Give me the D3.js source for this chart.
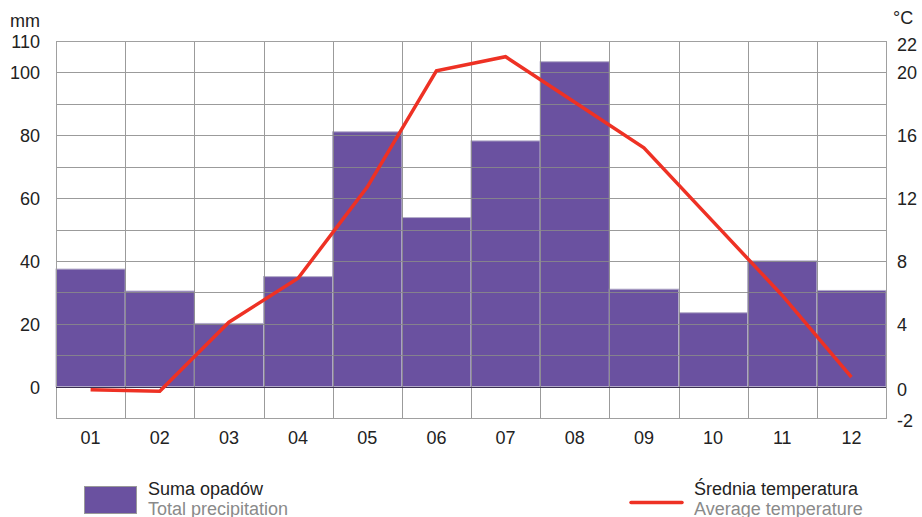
<!DOCTYPE html>
<html><head><meta charset="utf-8">
<script src="https://cdn.jsdelivr.net/npm/d3@7"></script>
<style>body{margin:0;background:#fff}svg{display:block;font-family:"Liberation Sans",Arial,sans-serif}</style>
</head><body><svg id="c" width="922" height="517"></svg>
<script>
const months = ["01","02","03","04","05","06","07","08","09","10","11","12"];
const precipitation = [37.4, 30.4, 20.1, 35.0, 81.1, 53.8, 78.2, 103.4, 31.0, 23.5, 40.0, 30.6];
const temperature = [-0.2, -0.3, 4.1, 6.9, 12.7, 20.1, 21.0, 18.1, 15.2, 10.5, 5.8, 0.6];
const mmTicks = [0, 20, 40, 60, 80, 100, 110];
const tempTicks = [-2, 0, 4, 8, 12, 16, 20, 22];

const svg = d3.select("#c");
const L = 56, R = 886, T = 41, B = 418;
const x = d3.scaleBand().domain(months).range([L, R]).padding(0);
const y = d3.scaleLinear().domain([-10, 110]).range([B, T]);
const yt = d3.scaleLinear().domain([-2, 22]).range([B, T]);

// bars
svg.append("g").selectAll("rect").data(precipitation).join("rect")
  .attr("x", (d,i) => x(months[i]))
  .attr("width", x.bandwidth())
  .attr("y", d => y(d))
  .attr("height", d => y(0) - y(d))
  .attr("fill", "#6a51a0")
  .attr("stroke", "#b3acc9").attr("stroke-width", 1);

// grid
const grid = svg.append("g").attr("stroke", "#8a8a8a").attr("stroke-width", 1).attr("opacity", 0.85);
grid.selectAll("line.h").data(d3.range(-10, 111, 10)).join("line")
  .attr("x1", L).attr("x2", R)
  .attr("y1", d => Math.round(y(d)) + 0.5).attr("y2", d => Math.round(y(d)) + 0.5);
grid.selectAll("line.v").data(d3.range(0, 13)).join("line")
  .attr("y1", T).attr("y2", B)
  .attr("x1", i => Math.round(L + i * x.bandwidth()) + 0.5)
  .attr("x2", i => Math.round(L + i * x.bandwidth()) + 0.5);
// border
svg.append("rect").attr("x", L + 0.5).attr("y", Math.round(T) + 0.5)
  .attr("width", R - L).attr("height", B - T)
  .attr("fill", "none").attr("stroke", "#a0a0a0");
// zero line
svg.append("line").attr("x1", L).attr("x2", R)
  .attr("y1", Math.round(y(0)) + 0.5).attr("y2", Math.round(y(0)) + 0.5)
  .attr("stroke", "#3a3050").attr("stroke-width", 1.2);

// temperature line
const line = d3.line().x((d,i) => x(months[i]) + x.bandwidth()/2).y(d => yt(d));
svg.append("path").datum(temperature).attr("d", line)
  .attr("fill", "none").attr("stroke", "#ee3124").attr("stroke-width", 3.5)
  .attr("stroke-linejoin", "miter");

// axes labels
const fs = 18;
svg.append("g").selectAll("text").data(mmTicks).join("text")
  .attr("x", 40).attr("y", d => y(d) + 7)
  .attr("text-anchor", "end").attr("font-size", fs).attr("fill", "#222").text(d => d);
svg.append("text").attr("x", 10).attr("y", 27).attr("font-size", fs).attr("fill", "#222").text("mm");
const rOff = d => d === 22 ? 10 : (d <= 0 ? 9 : 7);
svg.append("g").selectAll("text").data(tempTicks).join("text")
  .attr("x", 897).attr("y", d => yt(d) + rOff(d))
  .attr("text-anchor", "start").attr("font-size", fs).attr("fill", "#222").text(d => d);
svg.append("text").attr("x", 893).attr("y", 24).attr("font-size", fs).attr("fill", "#222").text("°C");
svg.append("g").selectAll("text").data(months).join("text")
  .attr("x", d => x(d) + x.bandwidth()/2).attr("y", 418 + 26)
  .attr("text-anchor", "middle").attr("font-size", fs).attr("fill", "#222").text(d => d);

// legend
svg.append("rect").attr("x", 84.5).attr("y", 486.5).attr("width", 52).attr("height", 27)
  .attr("fill", "#6a51a0").attr("stroke", "#999");
svg.append("text").attr("x", 148).attr("y", 495).attr("font-size", fs).attr("fill", "#222").text("Suma opadów");
svg.append("text").attr("x", 148).attr("y", 515).attr("font-size", fs).attr("fill", "#8a8a8a").text("Total precipitation");
svg.append("line").attr("x1", 631).attr("x2", 682).attr("y1", 502.5).attr("y2", 502.5)
  .attr("stroke", "#ee3124").attr("stroke-width", 3.5).attr("stroke-linecap", "round");
svg.append("text").attr("x", 694).attr("y", 495).attr("font-size", fs).attr("fill", "#222").text("Średnia temperatura");
svg.append("text").attr("x", 694).attr("y", 515).attr("font-size", fs).attr("fill", "#8a8a8a").text("Average temperature");
</script></body></html>
